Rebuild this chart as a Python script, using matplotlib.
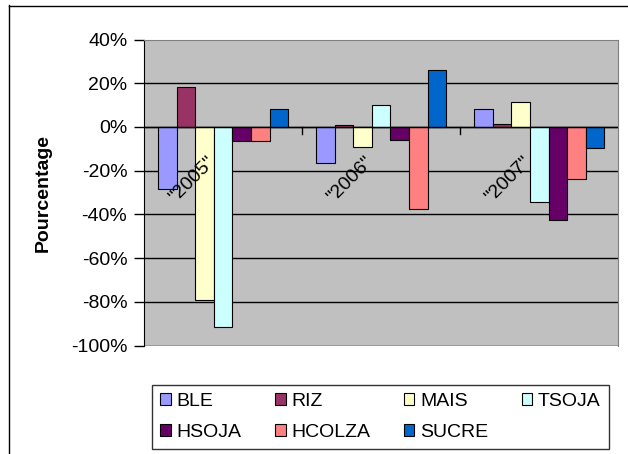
import numpy as np
import matplotlib
matplotlib.use("Agg")
import matplotlib.pyplot as plt
from matplotlib.lines import Line2D
from matplotlib.ticker import FuncFormatter, FixedLocator

plt.rcParams['font.family'] = ['Liberation Sans', 'DejaVu Sans']

categories = ['"2005"', '"2006"', '"2007"']
series_names = ['BLE', 'RIZ', 'MAIS', 'TSOJA', 'HSOJA', 'HCOLZA', 'SUCRE']
ble = [-28.2, -16.4, 8.2]
riz = [18.5, 1.0, 1.4]
mais = [-78.9, -9.1, 11.6]
tsoja = [-91.5, 10.0, -34.2]
hsoja = [-6.3, -5.8, -42.5]
hcolza = [-6.3, -37.3, -23.6]
sucre = [8.2, 26.2, -9.4]
series_values = [ble, riz, mais, tsoja, hsoja, hcolza, sucre]
colors = ['#9999FF', '#993366', '#FFFFCC', '#CCFFFF', '#660066', '#FF8080', '#0066CC']
yticks = [-100, -80, -60, -40, -20, 0, 20, 40]

FS = 14
W, H = 628, 454
fig = plt.figure(figsize=(W / 100, H / 100), dpi=100)
fig.patch.set_facecolor('white')

# chart border (only top and left visible)
fig.add_artist(Line2D([8.5 / W, 8.5 / W], [0, 1 - 5 / H], transform=fig.transFigure, color='black', lw=1))
fig.add_artist(Line2D([8.5 / W, 1], [1 - 5.5 / H, 1 - 5.5 / H], transform=fig.transFigure, color='black', lw=1))

l, r, t, b = 144, 618.3, 39.5, 345.7
ax = fig.add_axes([l / W, 1 - b / H, (r - l) / W, (b - t) / H])
ax.set_facecolor('#C0C0C0')

n = len(series_names)
x = np.arange(len(categories))
gap = 1.5
w = 1.0 / (n + gap)
handles = []
for i, (name, vals, c) in enumerate(zip(series_names, series_values, colors)):
    off = (i - (n - 1) / 2) * w
    bars = ax.bar(x + off, vals, width=w, color=c, edgecolor='black', linewidth=0.8, label=name, zorder=3)
    handles.append(bars)

ax.set_xlim(-0.5, len(categories) - 0.5)
ax.set_ylim(-100, 40)
ax.yaxis.set_major_locator(FixedLocator(yticks))
ax.yaxis.set_major_formatter(FuncFormatter(lambda v, p: f"{int(round(v))}%"))
ax.tick_params(axis='y', labelsize=FS, length=7, width=1, color='black', direction='out', pad=5)

# gridlines
for v in yticks[:-1]:
    ax.axhline(v, color='black', lw=1, zorder=1)
ax.axhline(0, color='black', lw=1, zorder=4)

# x axis at zero with ticks between categories
ax.spines['bottom'].set_visible(False)
ax.spines['left'].set_color('black')
ax.spines['top'].set_color('#808080')
ax.spines['right'].set_color('#808080')
ax.set_xticks([])
for xb in np.arange(0.5, len(categories) - 0.5, 1.0):
    ax.plot([xb, xb], [0, -3.0], color='black', lw=1, zorder=4, clip_on=False)

for xi, lab in zip(x, categories):
    ax.text(xi - 0.07, -15.0, lab, rotation=45, rotation_mode='anchor', ha='right', va='center',
            fontsize=FS, zorder=5)

ax.set_ylabel('Pourcentage', fontsize=FS, fontweight='bold', va='center')
ax.yaxis.set_label_coords((43 - l) / (r - l), 0.5)

# legend (row-major ordering for 4 columns)
order = [0, 4, 1, 5, 2, 6, 3]
lx0, lx1, ly0, ly1 = 152, 609, 385, 450
leg = fig.legend([handles[i] for i in order], [series_names[i] for i in order], ncol=4,
                 loc='upper left', bbox_to_anchor=(lx0 / W, 1 - ly1 / H, (lx1 - lx0) / W, (ly1 - ly0) / H),
                 mode='expand', fontsize=FS, frameon=True, fancybox=False, edgecolor='black',
                 handlelength=0.55, handleheight=0.55, handletextpad=0.3, labelspacing=0.72,
                 borderpad=0.42, borderaxespad=0, columnspacing=1.0)
leg.get_frame().set_linewidth(1)

fig.savefig('out.png', dpi=100, facecolor='white')
